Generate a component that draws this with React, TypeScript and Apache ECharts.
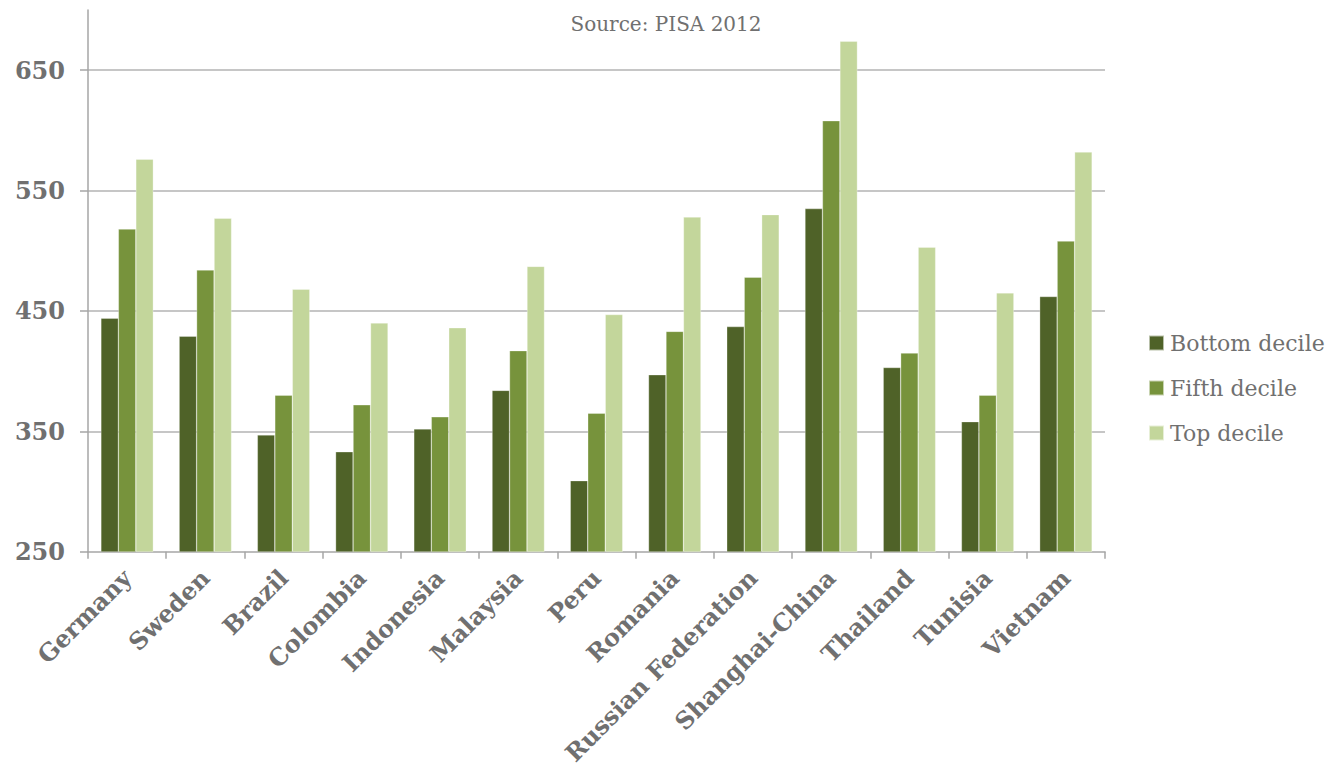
import React, { useEffect, useRef } from "react";
import * as echarts from "echarts";

const categories = [
  "Germany", "Sweden", "Brazil", "Colombia", "Indonesia", "Malaysia", "Peru",
  "Romania", "Russian Federation", "Shanghai-China", "Thailand", "Tunisia", "Vietnam",
];
const bottomDecile = [444, 429, 347, 333, 352, 384, 309, 397, 437, 535, 403, 358, 462];
const fifthDecile = [518, 484, 380, 372, 362, 417, 365, 433, 478, 608, 415, 380, 508];
const topDecile = [576, 527, 468, 440, 436, 487, 447, 528, 530, 674, 503, 465, 582];
const yTicks = [250, 350, 450, 550, 650];

const FONT = "'DejaVu Serif', Georgia, serif";
const GRAY = "#707070";

export default function App() {
  const ref = useRef<HTMLDivElement>(null);
  useEffect(() => {
    const chart = echarts.init(ref.current!, undefined, { renderer: "svg" });
    const mk = (name: string, data: number[], color: string) => ({
      name,
      type: "bar",
      data,
      barGap: "0%",
      barCategoryGap: "33%",
      itemStyle: { color, borderColor: "rgba(255,255,255,0.6)", borderWidth: 0.5 },
    });
    chart.setOption({
      animation: false,
      title: {
        text: "Source: PISA 2012",
        left: 653,
        textAlign: "center",
        top: 1,
        textStyle: { fontFamily: FONT, fontWeight: "normal", fontSize: 20, color: GRAY },
      },
      legend: {
        orient: "vertical",
        left: 1140,
        top: 323,
        padding: 0,
        itemWidth: 15,
        itemHeight: 15,
        itemGap: 21,
        icon: "rect",
        textStyle: { fontFamily: FONT, fontSize: 22, lineHeight: 24, color: GRAY, padding: [0, 0, 0, 1] },
        data: ["Bottom decile", "Fifth decile", "Top decile"],
      },
      grid: { left: 80, right: 224, top: 2, bottom: 215, containLabel: false },
      xAxis: {
        type: "category",
        data: categories,
        axisLine: { lineStyle: { color: "#a6a6a6", width: 1.5 } },
        axisTick: { show: true, length: 7, lineStyle: { color: "#a6a6a6", width: 1.5 } },
        axisLabel: {
          rotate: 45,
          interval: 0,
          margin: 22,
          fontFamily: FONT,
          fontWeight: "bold",
          fontSize: 24,
          color: GRAY,
        },
      },
      yAxis: {
        type: "value",
        min: yTicks[0],
        max: 700,
        interval: 100,
        axisLine: { show: true, lineStyle: { color: "#a6a6a6", width: 1.5 } },
        axisTick: { show: true, length: 8, lineStyle: { color: "#a6a6a6", width: 1.5 } },
        splitLine: { show: true, showMinLine: false, showMaxLine: false, lineStyle: { color: "#b3b3b3", width: 1.5 } },
        axisLabel: {
          showMaxLabel: false,
          margin: 23,
          fontFamily: FONT,
          fontWeight: "bold",
          fontSize: 24,
          color: GRAY,
          formatter: (v: number) => (yTicks.includes(v) ? String(v) : ""),
        },
      },
      series: [
        mk("Bottom decile", bottomDecile, "#4f6228"),
        mk("Fifth decile", fifthDecile, "#77933c"),
        mk("Top decile", topDecile, "#c3d69b"),
      ],
    });
    return () => chart.dispose();
  }, []);
  return <div ref={ref} style={{ width: 1321, height: 760 }} />;
}
